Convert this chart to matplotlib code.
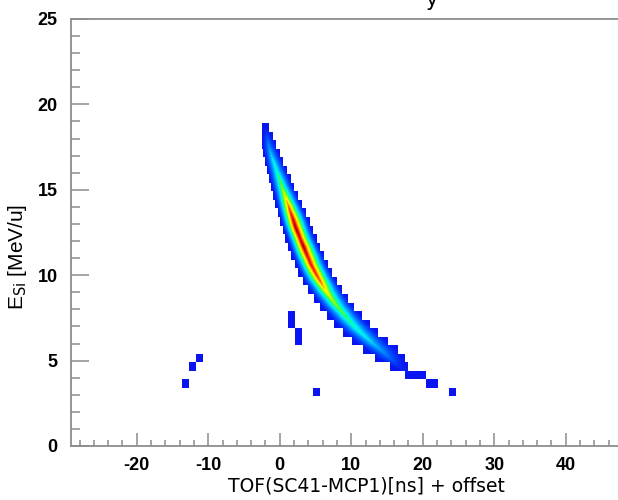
import numpy as np
import matplotlib
matplotlib.use("Agg")
import matplotlib.pyplot as plt
from matplotlib.colors import LinearSegmentedColormap

# ---- data -------------------------------------------------------------
# Main band, one entry per 0.5 MeV/u slice of E_Si:
# slice centre, TOF extent (left/right), TOF of the maximum, relative peak height
e_row = np.array([18.65, 18.15, 17.65, 17.15, 16.65, 16.15, 15.65, 15.15,
                  14.65, 14.15, 13.65, 13.15, 12.65, 12.15, 11.65, 11.15,
                  10.65, 10.15, 9.65, 9.15, 8.65, 8.15, 7.65, 7.15,
                  6.65, 6.15, 5.65, 5.15, 4.65, 4.15, 3.65])
tof_left = np.array([-2.5, -2.5, -2.5, -2.3, -2.1, -1.8, -1.5, -1.2,
                     -0.9, -0.6, -0.3, 0.0, 0.4, 0.8, 1.2, 1.6,
                     2.1, 2.6, 3.2, 3.9, 4.7, 5.6, 6.6, 7.6,
                     8.8, 10.1, 11.6, 13.2, 15.4, 17.4, 20.3])
tof_right = np.array([-1.5, -1.0, -0.5, 0.0, 0.5, 1.0, 1.5, 2.0,
                      2.6, 3.1, 3.7, 4.2, 4.6, 5.1, 5.6, 6.2,
                      6.7, 7.3, 8.0, 8.7, 9.5, 10.4, 11.4, 12.5,
                      13.7, 15.0, 16.4, 17.4, 17.8, 20.3, 22.0])
tof_ridge = np.array([-2.0, -1.8, -1.6, -1.3, -0.9, -0.5, -0.1, 0.3,
                      0.7, 1.1, 1.5, 1.9, 2.3, 2.8, 3.3, 3.8,
                      4.3, 4.9, 5.6, 6.3, 7.1, 8.0, 9.0, 10.0,
                      11.2, 12.5, 13.9, 15.2, 16.4, 18.5, 21.0])
row_peak = np.array([0.0, 0.1, 0.2, 0.3, 0.38, 0.42, 0.5, 0.56,
                     0.66, 0.8, 0.9, 0.97, 1.0, 0.96, 1.0, 0.95,
                     0.92, 0.9, 0.84, 0.72, 0.62, 0.55, 0.5, 0.45,
                     0.4, 0.34, 0.26, 0.16, 0.05, 0.0, 0.0])

# Isolated single-count bins (bin centres)
iso_tof = np.array([-13.2, -12.2, -11.2, 1.6, 1.6, 2.6, 2.6, 5.1, 24.2])
iso_e = np.array([3.65, 4.65, 5.15, 7.15, 7.65, 6.15, 6.65, 3.15, 3.15])

x_ticks = [-20, -10, 0, 10, 20, 30, 40]
y_ticks = [0, 5, 10, 15, 20, 25]

# ---- style ------------------------------------------------------------
BIN_W, BIN_H = 1.0, 0.5
ROW_H = 0.5
axis_grey = "#8c8c8c"

palette = LinearSegmentedColormap.from_list("root_pal", [
    (0.00, "#0a14f0"), (0.12, "#0050ff"), (0.25, "#00a0ff"),
    (0.35, "#00e8ff"), (0.42, "#00ffc0"), (0.50, "#40ff40"),
    (0.60, "#c0ff00"), (0.68, "#ffff00"), (0.78, "#ff9000"),
    (0.88, "#ff2000"), (1.00, "#900000")])

fig = plt.figure(figsize=(6.18, 5.00), dpi=100)
ax = fig.add_axes([71 / 618, 54 / 500, 592 / 618, 427 / 500])
ax.set_xlim(-29.2, 53.6)
ax.set_ylim(0, 25)

# ---- band as a smooth colour map with binned (stepped) borders --------
xs = np.arange(-4.0, 23.0, 0.04)
ys = np.arange(e_row[-1] - ROW_H / 2, e_row[0] + ROW_H / 2, 0.02)
X, Y = np.meshgrid(xs, ys)
top = e_row[0] + ROW_H / 2
r = np.clip(((top - Y) / ROW_H).astype(int), 0, len(e_row) - 1)
inside = (X >= tof_left[r]) & (X <= tof_right[r])

asc = slice(None, None, -1)
lft = np.interp(Y, e_row[asc], tof_left[asc])
rgt = np.interp(Y, e_row[asc], tof_right[asc])
rdg = np.interp(Y, e_row[asc], tof_ridge[asc])
pk = np.interp(Y, e_row[asc], row_peak[asc])
d = np.where(X < rdg,
             (rdg - X) / np.maximum(rdg - lft, 1e-6),
             (X - rdg) / np.maximum(rgt - rdg, 1e-6))
val = pk * np.clip((0.94 - d) / 0.94, 0.0, 1.0) ** 1.25
val = np.ma.masked_where(~inside, val)

ax.imshow(val, extent=[xs[0], xs[-1] + 0.04, ys[0], ys[-1] + 0.02],
          origin="lower", cmap=palette, vmin=0, vmax=1,
          interpolation="nearest", aspect="auto", zorder=2)

# single bins
ax.bar(iso_tof, BIN_H, width=BIN_W, bottom=iso_e - BIN_H / 2,
       color=palette(0.0), linewidth=0, zorder=2)

# ---- axes -------------------------------------------------------------
for s in ax.spines.values():
    s.set_color(axis_grey)
    s.set_linewidth(1.3)

tick_font = dict(family=["Liberation Sans Narrow", "Liberation Sans"],
                 weight="bold", size=13)
ax.set_xticks(x_ticks)
ax.set_xticklabels([str(t) for t in x_ticks], fontdict=tick_font)
ax.set_yticks(y_ticks)
ax.set_yticklabels([str(t) for t in y_ticks], fontdict=tick_font)
ax.set_xticks(np.arange(-28, 54, 2), minor=True)
ax.set_yticks(np.arange(0, 26, 1), minor=True)

ax.tick_params(axis="x", which="major", direction="in", length=9.2,
               width=1.1, color=axis_grey, pad=8.0, top=False)
ax.tick_params(axis="x", which="minor", direction="in", length=4.6,
               width=1.1, color=axis_grey, top=False)
ax.tick_params(axis="y", which="major", direction="in", length=12.8,
               width=1.1, color=axis_grey, pad=9.5, right=False)
ax.tick_params(axis="y", which="minor", direction="in", length=6.4,
               width=1.1, color=axis_grey, right=False)

plt.rcParams["mathtext.fontset"] = "custom"
plt.rcParams["mathtext.rm"] = "Liberation Sans"
ax.set_xlabel("TOF(SC41-MCP1)[ns] + offset", family="DejaVu Sans",
              fontsize=13.5)
ax.xaxis.set_label_coords((366 - 71) / 592, -(477 - 446) / 427)
ax.set_ylabel(r"E$_{\mathrm{Si}}$ [MeV/u]", family="Liberation Sans",
              fontsize=15)
ax.yaxis.set_label_coords(-(71 - 29) / 592, (446 - 257) / 427)

# tail of the heading line above the frame
fig.text(432 / 618, 1 - 6 / 500, "y", family="DejaVu Sans", fontsize=15,
         ha="center", va="baseline")

fig.savefig("out.png", dpi=100)
